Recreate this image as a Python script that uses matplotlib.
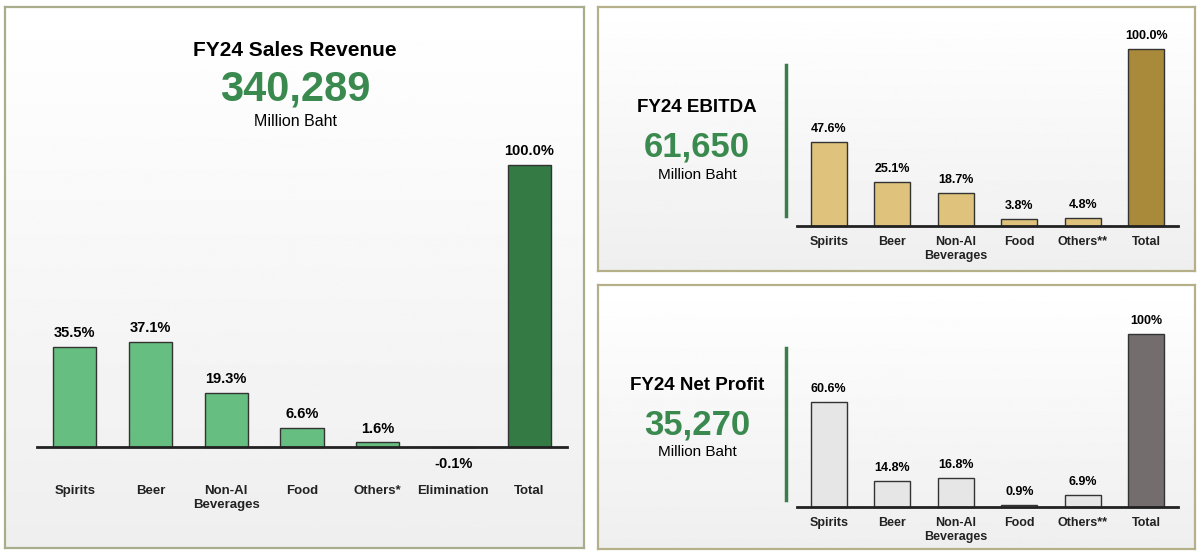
import numpy as np
import matplotlib.pyplot as plt

plt.rcParams['font.family'] = ['Liberation Sans', 'DejaVu Sans']

# data
rev_cats = ['Spirits', 'Beer', 'Non-Al\nBeverages', 'Food', 'Others*', 'Elimination', 'Total']
rev_vals = [35.5, 37.1, 19.3, 6.6, 1.6, -0.1, 100.0]
rev_labels = ['35.5%', '37.1%', '19.3%', '6.6%', '1.6%', '-0.1%', '100.0%']

ebitda_cats = ['Spirits', 'Beer', 'Non-Al\nBeverages', 'Food', 'Others**', 'Total']
ebitda_vals = [47.6, 25.1, 18.7, 3.8, 4.8, 100.0]
ebitda_labels = ['47.6%', '25.1%', '18.7%', '3.8%', '4.8%', '100.0%']

np_cats = ['Spirits', 'Beer', 'Non-Al\nBeverages', 'Food', 'Others**', 'Total']
np_vals = [60.6, 14.8, 16.8, 0.9, 6.9, 100.0]
np_labels = ['60.6%', '14.8%', '16.8%', '0.9%', '6.9%', '100%']

W, H = 1200, 554
fig = plt.figure(figsize=(W / 100, H / 100), dpi=100)
fig.patch.set_facecolor('white')
GREEN_TXT = '#3a8a50'


def px_ax(x0, y0, x1, y1, **kw):
    return fig.add_axes([x0 / W, 1 - y1 / H, (x1 - x0) / W, (y1 - y0) / H], **kw)


def panel(x0, y0, x1, y1, edge):
    ax = px_ax(x0, y0, x1, y1)
    grad = np.linspace(1.0, 0.935, 256).reshape(-1, 1)
    ax.imshow(grad, aspect='auto', cmap='gray', vmin=0, vmax=1,
              extent=[0, 1, 0, 1], origin='upper')
    ax.set_xlim(0, 1); ax.set_ylim(0, 1)
    ax.set_xticks([]); ax.set_yticks([])
    for s in ax.spines.values():
        s.set_color(edge); s.set_linewidth(1.6)
    return ax


def bars(x0, x1, base, scale, top, cats, vals, labels, colors, lab_fs, cat_fs, pad):
    ax = px_ax(x0, top, x1, base)
    ax.patch.set_alpha(0)
    n = len(cats)
    ax.set_xlim(-0.5, n - 0.5)
    ax.set_ylim(0, (base - top) / scale)
    ax.bar(range(n), vals, width=0.57, color=colors, edgecolor='#333333',
           linewidth=1.0, clip_on=False, zorder=2)
    for i, (v, t) in enumerate(zip(vals, labels)):
        if v >= 0:
            ax.annotate(t, (i, v), xytext=(0, 5), textcoords='offset points',
                        ha='center', va='bottom', fontsize=lab_fs, fontweight='bold')
        else:
            ax.annotate(t, (i, 0), xytext=(0, -7), textcoords='offset points',
                        ha='center', va='top', fontsize=lab_fs, fontweight='bold')
    ax.set_xticks(range(n))
    ax.set_xticklabels(cats, fontsize=cat_fs, fontweight='bold', color='#222222')
    ax.tick_params(axis='x', length=0, pad=pad)
    ax.set_yticks([])
    for s in ['top', 'left', 'right']:
        ax.spines[s].set_visible(False)
    ax.spines['bottom'].set_linewidth(2.0)
    ax.spines['bottom'].set_color('#222222')
    ax.spines['bottom'].set_zorder(3)
    return ax


# left panel: sales revenue
panel(5, 7, 584, 548, '#a9ad8c')
fig.text(295 / W, 1 - 50 / H, 'FY24 Sales Revenue', ha='center', va='center',
         fontsize=15, fontweight='bold')
fig.text(295 / W, 1 - 89 / H, '340,289', ha='center', va='center',
         fontsize=30, fontweight='bold', color=GREEN_TXT)
fig.text(295 / W, 1 - 122 / H, 'Million Baht', ha='center', va='center', fontsize=11.5)
rev_colors = ['#66bf80'] * 6 + ['#337a45']
bars(37, 567, 447, 2.82, 150, rev_cats, rev_vals, rev_labels, rev_colors,
     10.5, 9.5, 27.5)

# right top: EBITDA
panel(598, 7, 1195, 271, '#b5b08a')
fig.text(697 / W, 1 - 107 / H, 'FY24 EBITDA', ha='center', va='center',
         fontsize=13.5, fontweight='bold')
fig.text(697 / W, 1 - 147 / H, '61,650', ha='center', va='center',
         fontsize=25, fontweight='bold', color=GREEN_TXT)
fig.text(697 / W, 1 - 175 / H, 'Million Baht', ha='center', va='center', fontsize=11)
fig.add_artist(plt.Line2D([786 / W, 786 / W], [1 - 65 / H, 1 - 216 / H],
                          color='#3a7d4a', linewidth=2.5))
eb_colors = ['#dfc37d'] * 5 + ['#a9893a']
bars(797, 1178, 226, 1.77, 40, ebitda_cats, ebitda_vals, ebitda_labels, eb_colors,
     9, 9, 7.5)

# right bottom: net profit
panel(598, 285, 1195, 549, '#b5b08a')
fig.text(697 / W, 1 - 385 / H, 'FY24 Net Profit', ha='center', va='center',
         fontsize=13.5, fontweight='bold')
fig.text(697 / W, 1 - 425 / H, '35,270', ha='center', va='center',
         fontsize=25, fontweight='bold', color=GREEN_TXT)
fig.text(697 / W, 1 - 452 / H, 'Million Baht', ha='center', va='center', fontsize=11)
fig.add_artist(plt.Line2D([786 / W, 786 / W], [1 - 348 / H, 1 - 500 / H],
                          color='#3a7d4a', linewidth=2.5))
np_colors = ['#e6e6e6'] * 5 + ['#736e6d']
bars(797, 1178, 507, 1.73, 320, np_cats, np_vals, np_labels, np_colors,
     9, 9, 7.5)

fig.savefig('out.png', dpi=100)
